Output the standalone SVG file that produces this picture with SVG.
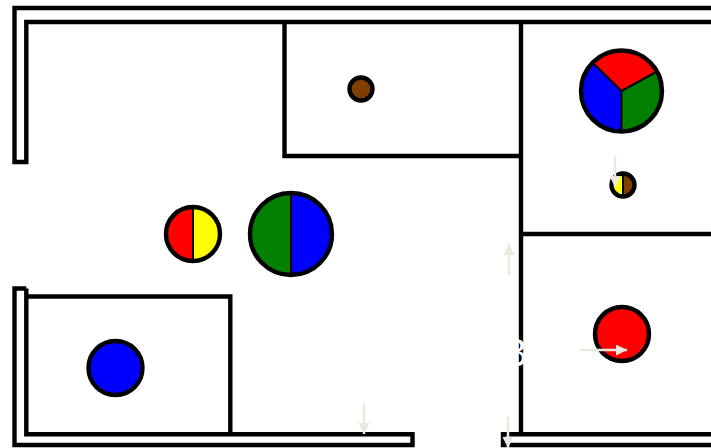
<svg xmlns="http://www.w3.org/2000/svg" width="711" height="448" viewBox="0 0 711 448">
<style>
.w{fill:none;stroke:#000;stroke-width:4.400}
.n{stroke:#000;stroke-width:4.400}
.d{stroke:#000;stroke-width:2;fill:none}
.a{fill:none;stroke:#e9e9df;stroke-width:2.500;marker-end:url(#ah)}
</style>
<defs>
<marker id="ah" markerUnits="userSpaceOnUse" markerWidth="12" markerHeight="12" refX="11" refY="5.500" orient="auto"><path d="M0 0L11 5.500L0 11Z" fill="#e9e9df"/></marker>
</defs>
<rect width="711" height="448" fill="#fff"/>
<g id="walls">
<path class="w" d="M711 8H14.500V162H26.300V22H711"/>
<path class="w" d="M26.300 288.500H14.500V445H412.500V434.300H26.300V288.500"/>
<path class="w" d="M711 445H503V434.300H711"/>
<path class="w" d="M26.300 296.500H230.300V434"/>
<path class="w" d="M284.500 22V156H521"/>
<path class="w" d="M521 22V434"/>
<path class="w" d="M521 234H711"/>
</g>
<g id="node-brown"><circle class="n" cx="361" cy="89" r="11.500" fill="#7f3f00"/></g>
<g id="node-tricolor">
<path d="M621.500 91L592.600 62.600A40.500 40.500 0 0 1 657 71.500Z" fill="#f00"/>
<path d="M621.500 91L657 71.500A40.500 40.500 0 0 1 621.500 131.500Z" fill="#007f00"/>
<path d="M621.500 91L621.500 131.500A40.500 40.500 0 0 1 592.600 62.600Z" fill="#00f"/>
<path class="d" d="M592.600 62.600L621.500 91L657 71.500M621.500 91V131.500"/>
<circle class="w" cx="621.500" cy="91" r="40.500"/>
</g>
<g id="node-yellow-brown">
<path d="M623 173.500A11.500 11.500 0 0 0 623 196.500Z" fill="#ff0"/>
<path d="M623 173.500A11.500 11.500 0 0 1 623 196.500Z" fill="#7f3f00"/>
<path class="d" d="M623 173.500V196.500"/>
<circle class="w" cx="623" cy="185" r="11.500"/>
</g>
<g id="node-red-yellow">
<path d="M193 207A27 27 0 0 0 193 261Z" fill="#f00"/>
<path d="M193 207A27 27 0 0 1 193 261Z" fill="#ff0"/>
<path class="d" d="M193 207V261"/>
<circle class="w" cx="193" cy="234" r="27"/>
</g>
<g id="node-green-blue">
<path d="M291 193A41 41 0 0 0 291 275Z" fill="#007f00"/>
<path d="M291 193A41 41 0 0 1 291 275Z" fill="#00f"/>
<path class="d" d="M291 193V275"/>
<circle class="w" cx="291" cy="234" r="41"/>
</g>
<g id="node-red"><circle class="n" cx="622" cy="334" r="27" fill="#f00"/></g>
<g id="node-blue"><circle class="n" cx="115.500" cy="368" r="27" fill="#00f"/></g>
<text x="502" y="366" font-family="Liberation Sans, sans-serif" font-size="38" fill="#fff">B</text>
<g id="connectors">
<path class="a" d="M509 275V244"/>
<path class="a" d="M364 403V434"/>
<path class="a" d="M508 417V448"/>
<path class="a" d="M580 350H627"/>
<path class="a" d="M615 156V187"/>
</g>
</svg>
